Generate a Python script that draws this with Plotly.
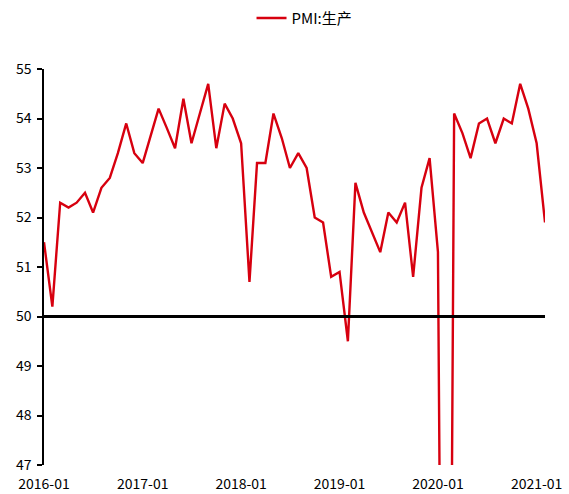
import plotly.graph_objects as go

months = [f"{y}-{m:02d}-01" for y in range(2016, 2022) for m in range(1, 13)][:62]
pmi_production = [
    51.5, 50.2, 52.3, 52.2, 52.3, 52.5, 52.1, 52.6, 52.8, 53.3, 53.9, 53.3,
    53.1, 53.7, 54.2, 53.8, 53.4, 54.4, 53.5, 54.1, 54.7, 53.4, 54.3, 54.0,
    53.5, 50.7, 53.1, 53.1, 54.1, 53.6, 53.0, 53.3, 53.0, 52.0, 51.9, 50.8,
    50.9, 49.5, 52.7, 52.1, 51.7, 51.3, 52.1, 51.9, 52.3, 50.8, 52.6, 53.2,
    51.3, 27.8, 54.1, 53.7, 53.2, 53.9, 54.0, 53.5, 54.0, 53.9, 54.7, 54.2,
    53.5, 51.9,
]
y_ticks = [47, 48, 49, 50, 51, 52, 53, 54, 55]
x_ticks = ["2016-01-01", "2017-01-01", "2018-01-01", "2019-01-01", "2020-01-01", "2021-01-01"]
x_tick_labels = ["2016-01", "2017-01", "2018-01", "2019-01", "2020-01", "2021-01"]
series_name = "PMI:生产"
baseline = 50

font_family = "Noto Sans CJK SC, DejaVu Sans, sans-serif"

fig = go.Figure()
fig.add_trace(go.Scatter(
    x=months, y=pmi_production, mode="lines", name=series_name,
    line=dict(color="#d7000f", width=2.4),
))
fig.add_shape(type="line", xref="paper", yref="y", x0=0, x1=1, y0=baseline, y1=baseline,
              line=dict(color="black", width=3))

fig.update_layout(
    width=569, height=494,
    margin=dict(l=44, r=24, t=69, b=29, autoexpand=False),
    paper_bgcolor="white", plot_bgcolor="white",
    font=dict(family=font_family, size=14, color="black"),
    showlegend=True,
    legend=dict(orientation="h", x=0.52, xanchor="center",
                yref="container", y=0.963, yanchor="middle",
                font=dict(size=15)),
    xaxis=dict(
        range=["2016-01-01", "2021-02-01"], tickvals=x_ticks, ticktext=x_tick_labels,
        showgrid=False, zeroline=False, showline=False, ticks="",
        automargin=False, ticklabelstandoff=9,
    ),
    yaxis=dict(
        range=[47, 55], tickvals=y_ticks, showgrid=False, zeroline=False,
        showline=True, linecolor="black", linewidth=1.5, ticks="outside",
        ticklen=5, tickcolor="black", tickwidth=1.5, automargin=False,
        ticklabelstandoff=3,
    ),
)

fig.write_html("out.html", config={"displayModeBar": False},
               post_script="document.body.style.margin='0';document.body.style.overflow='hidden';")
